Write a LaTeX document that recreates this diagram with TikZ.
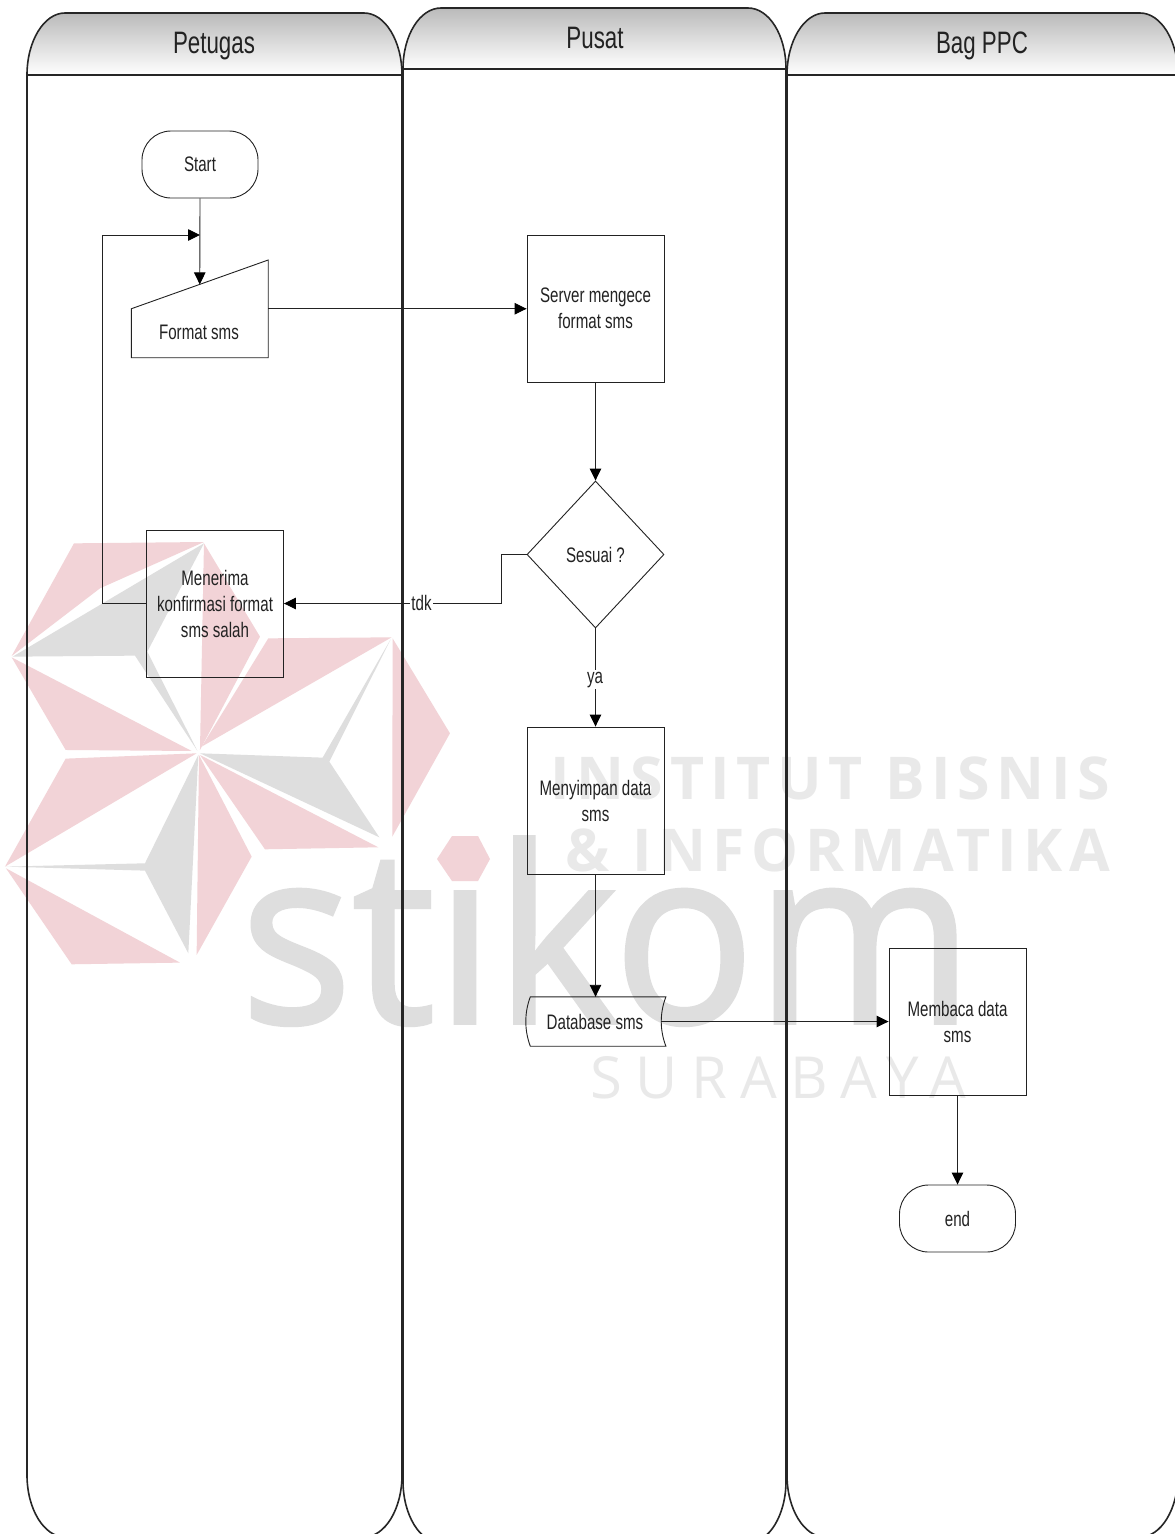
\documentclass[tikz,border=0pt]{standalone}
\usepackage{fontspec}
\setmainfont[FakeStretch=0.72]{Liberation Sans}
\newfontfamily\wmlogo[FakeStretch=0.959,FakeBold=1.5]{Open Sans}
\newfontfamily\wmbold[LetterSpace=11.2]{Open Sans}
\newfontfamily\wmthin[LetterSpace=23]{Open Sans}
\usetikzlibrary{arrows.meta,shapes.geometric,calc}
\definecolor{wmpink}{HTML}{F2D3D7}
\definecolor{wmgray}{HTML}{DEDEDE}
\definecolor{wmtext}{HTML}{E9E9E9}
\definecolor{ink}{HTML}{222222}
\tikzset{
  flowline/.style={draw=ink,line width=0.9pt},
  arrowline/.style={flowline,-{Triangle[length=12pt,width=11.5pt,color=black]}},
  lanetitle/.style={text=ink,font=\fontsize{31}{36}\selectfont,inner sep=0pt,anchor=base},
  lanestroke/.style={draw=black!85,line width=1.6pt},
  txt/.style={text=ink,font=\fontsize{21}{26}\selectfont,align=center,inner sep=0pt},
  procbox/.style={txt,draw=ink,line width=0.9pt,minimum width=137pt,minimum height=147pt},
  terminal/.style={txt,draw=ink,line width=0.9pt,rounded corners=29pt,minimum width=116pt,minimum height=67pt},
  decisionbox/.style={txt,draw=ink,line width=0.9pt,diamond,minimum width=137pt,minimum height=147pt},
  plainbox/.style={txt,minimum width=#1},
  edgetag/.style={txt,fill=white,inner xsep=1pt,inner ysep=2pt},
}
\newcommand{\swimlane}[5]{% x0, x1, ytop, yhead, ystart-of-bottom-curve
  \shade[top color=black!27,bottom color=white]
    (#1,#4) .. controls (#1,#4-34) and (#1+17,#3) .. (#1+38,#3) -- (#2-38,#3)
    .. controls (#2-17,#3) and (#2,#4-34) .. (#2,#4) -- cycle;
  \draw[lanestroke] (#1,#4) .. controls (#1,#4-34) and (#1+17,#3) .. (#1+38,#3) -- (#2-38,#3)
    .. controls (#2-17,#3) and (#2,#4-34) .. (#2,#4)
    -- (#2,#5) .. controls (#2,#5+34) and (#2-17,#5+62) .. (#2-38,#5+62)
    -- (#1+38,#5+62) .. controls (#1+17,#5+62) and (#1,#5+34) .. (#1,#5) -- cycle;
  \draw[lanestroke] (#1,#4) -- (#2,#4);
}
\begin{document}
\begin{tikzpicture}[x=1pt,y=-1pt]
\clip (0,0) rectangle (1175,1534);
\fill[white] (0,0) rectangle (1175,1534);

% watermark
\begin{scope}[shift={(0,520)},x=0.3333pt,y=-0.3333pt]
  \fill[wmpink] (222,70)--(612,66)--(300,205)--(35,408)--cycle;
  \fill[wmgray] (612,70)--(38,410)--(405,407)--(592,692)--(442,395)--cycle;
  \fill[wmpink] (612,70)--(780,350)--(600,690)--cycle;
  \fill[wmpink] (35,412)--(197,690)--(575,693)--cycle;
  \fill[wmpink] (805,355)--(1175,352)--(605,680)--cycle;
  \fill[wmgray] (600,700)--(968,713)--(1172,358)--(988,725)--(1138,952)--cycle;
  \fill[wmpink] (1178,355)--(1350,640)--(1177,950)--cycle;
  \fill[wmpink] (600,705)--(1135,982)--(795,988)--cycle;
  \fill[wmpink] (197,716)--(590,700)--(15,1040)--cycle;
  \fill[wmgray] (595,705)--(435,1030)--(18,1040)--(435,1052)--(565,1300)--cycle;
  \fill[wmpink] (597,705)--(755,1010)--(590,1305)--cycle;
  \fill[wmpink] (18,1045)--(540,1328)--(215,1333)--cycle;
\end{scope}
\node (wmstikom) [anchor=base west,inner sep=0pt,text=wmgray,font=\wmlogo\fontsize{245}{250}\selectfont] at (240,1023) {stikom};
\fill[white] (432,830) rectangle (496,888);
\fill[wmpink] (437,859)--(452,836)--(478,836)--(490,859)--(478,881)--(452,881)--cycle;
\node (wmline1) [anchor=base east,inner sep=0pt,text=wmtext,font=\wmbold\bfseries\fontsize{59}{60}\selectfont] at (1110,799) {INSTITUT BISNIS};
\node (wmline2) [anchor=base east,inner sep=0pt,text=wmtext,font=\wmbold\bfseries\fontsize{59}{60}\selectfont] at (1110,871) {\& INFORMATIKA};
\node (wmline3) [anchor=base east,inner sep=0pt,text=wmtext,font=\wmthin\fontsize{58}{60}\selectfont] at (966,1098) {SURABAYA};

% swimlanes
\swimlane{27}{402}{13}{75}{1475}
\swimlane{403}{786}{8}{69}{1481}
\swimlane{787}{1178}{13}{75}{1475}
\node (h1) [lanetitle] at (214,53) {Petugas};
\node (h2) [lanetitle] at (595,48) {Pusat};
\node (h3) [lanetitle] at (982,53) {Bag PPC};

% nodes
\node (start) [terminal] at (200,164.5) {Start};
\node (fmt) [plainbox=136.5pt,minimum height=97.5pt] at (199.75,308.75) {};
\draw[flowline] (fmt.south west) -- (fmt.south east) -- (fmt.north east |- 0,260) -- (fmt.west) -- cycle;
\node (fmtlabel) [txt] at (199,332) {Format sms};
\coordinate (fmttop) at ($(fmt.west)!0.5!(fmt.east |- 0,260)$);
\node (srv) [procbox] at (595.5,308.5) {Server mengece\\format sms};
\node (dec) [decisionbox] at (595.5,554.5) {Sesuai ?};
\node (conf) [procbox] at (215,604) {Menerima\\konfirmasi format\\sms salah};
\node (save) [procbox] at (595.5,800.5) {Menyimpan data\\sms};
\node (db) [plainbox=135pt,minimum height=49pt] at (593.5,1021.5) {\hspace{3pt}Database sms};
\draw[flowline] ([xshift=4.5pt]db.north west) -- ([xshift=4.7pt]db.north east)
  .. controls ([xshift=-1.5pt,yshift=-16pt]db.north east) and ([xshift=-1.5pt,yshift=16pt]db.south east) .. ([xshift=4.7pt]db.south east)
  -- ([xshift=4.5pt]db.south west)
  .. controls ([xshift=-1.5pt,yshift=16pt]db.south west) and ([xshift=-1.5pt,yshift=-16pt]db.north west) .. cycle;
\node (read) [procbox] at (957.5,1021.5) {Membaca data\\sms};
\node (end) [terminal] at (957.5,1218.5) {end};

% connectors
\draw[arrowline] (start.south) -- (fmttop);
\draw[arrowline] (fmt.east) -- (srv.west |- fmt.east);
\draw[arrowline] (srv.south) -- (dec.north);
\draw[arrowline] (dec.west) -- (501.5,554.5) -- (501.5,603.5) -- (conf.east |- 0,603.5);
\node (tdk) [edgetag] at (421.5,603) {tdk};
\draw[arrowline] (conf.west |- 0,603.5) -- (102.5,603.5) -- (102.5,235) -- (start.south |- 0,235);
\draw[arrowline] (dec.south) -- (save.north);
\node (ya) [edgetag,anchor=base] at (595,683) {ya};
\draw[arrowline] (save.south) -- (save.south |- db.north);
\draw[arrowline] (db.east) -- (read.west);
\draw[arrowline] (read.south) -- (end.north);
\end{tikzpicture}
\end{document}
